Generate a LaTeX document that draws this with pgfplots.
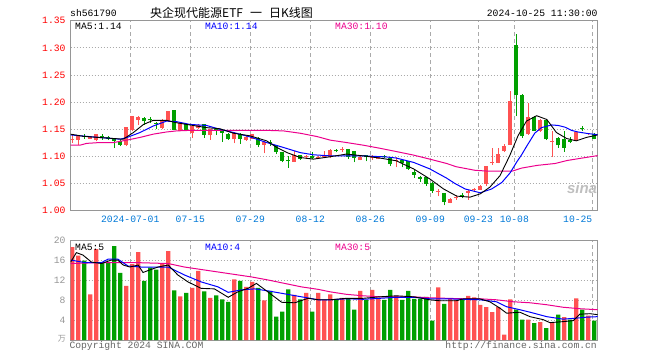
\documentclass[border=0pt]{standalone}
\usepackage{fontspec}
\setmainfont{Liberation Mono}
\setmonofont{Liberation Mono}
\setsansfont{Liberation Sans}
\newfontfamily\cjk{Noto Sans CJK SC}
\usepackage{pgfplots}
\usepackage{pgfplotstable}
\pgfplotsset{compat=1.18}
\definecolor{upred}{RGB}{255,82,82}
\definecolor{dngreen}{RGB}{0,160,0}
\definecolor{gridgray}{RGB}{170,170,170}
\definecolor{framegray}{RGB}{150,150,150}
\definecolor{tickblue}{RGB}{0,120,215}
\definecolor{volgray}{RGB}{150,150,150}
\newcommand{\mono}{\ttfamily\fontsize{9.7}{10}\selectfont}

\pgfplotstableread{
i O H L C
0 1.1310 1.1400 1.1250 1.1330
1 1.1306 1.1380 1.1214 1.1368
3 1.1325 1.1370 1.1320 1.1355
4 1.1294 1.1420 1.1275 1.1410
9 1.1214 1.1550 1.1190 1.1533
10 1.1480 1.1750 1.1460 1.1736
11 1.1680 1.1736 1.1582 1.1718
15 1.1520 1.1690 1.1500 1.1675
16 1.1644 1.1840 1.1630 1.1828
18 1.1472 1.1620 1.1465 1.1613
20 1.1429 1.1570 1.1337 1.1564
21 1.1518 1.1590 1.1500 1.1573
23 1.1390 1.1510 1.1305 1.1500
27 1.1317 1.1450 1.1238 1.1439
29 1.1299 1.1370 1.1290 1.1360
30 1.1329 1.1420 1.1320 1.1409
32 1.1213 1.1275 1.1055 1.1268
37 1.0902 1.1104 1.0895 1.1024
39 1.0985 1.1024 1.0951 1.1005
41 1.0975 1.1000 1.0960 1.0995
42 1.0982 1.1104 1.0975 1.1012
43 1.0982 1.1128 1.0970 1.1110
45 1.1112 1.1165 1.1073 1.1132
48 1.0933 1.1000 1.0925 1.0994
50 1.0970 1.1020 1.0933 1.1012
51 1.0951 1.0990 1.0945 1.0982
54 1.0923 1.0982 1.0799 1.0943
61 1.0350 1.0402 1.0262 1.0370
63 1.0146 1.0230 1.0135 1.0220
64 1.0227 1.0290 1.0200 1.0247
66 1.0329 1.0380 1.0206 1.0372
67 1.0380 1.0421 1.0360 1.0400
68 1.0390 1.0470 1.0385 1.0464
69 1.0495 1.0830 1.0452 1.0820
70 1.0872 1.1158 1.0851 1.0892
71 1.0882 1.1158 1.0870 1.1047
72 1.1097 1.1220 1.1080 1.1189
73 1.1219 1.2202 1.1210 1.2030
76 1.1404 1.1987 1.1395 1.1723
78 1.1465 1.1690 1.1455 1.1680
80 1.1271 1.1465 1.0986 1.1291
84 1.1293 1.1460 1.1285 1.1453
86 1.1406 1.1440 1.1395 1.1426
}\upcandles

\pgfplotstableread{
i O H L C
2 1.1380 1.1417 1.1320 1.1360
5 1.1377 1.1410 1.1306 1.1357
6 1.1355 1.1370 1.1300 1.1318
7 1.1337 1.1345 1.1153 1.1275
8 1.1288 1.1318 1.1183 1.1214
12 1.1705 1.1718 1.1582 1.1644
13 1.1685 1.1718 1.1613 1.1665
14 1.1623 1.1625 1.1503 1.1603
17 1.1846 1.1850 1.1480 1.1490
19 1.1595 1.1600 1.1460 1.1472
22 1.1591 1.1600 1.1348 1.1390
24 1.1498 1.1530 1.1390 1.1478
25 1.1488 1.1500 1.1268 1.1439
26 1.1421 1.1430 1.1310 1.1317
28 1.1421 1.1430 1.1226 1.1317
31 1.1348 1.1360 1.1165 1.1213
33 1.1266 1.1300 1.1195 1.1246
34 1.1207 1.1215 1.1043 1.1085
35 1.1085 1.1090 1.0890 1.0921
36 1.0931 1.1012 1.0787 1.0911
38 1.1024 1.1030 1.0940 1.0951
40 1.1012 1.1085 1.0951 1.0963
44 1.1114 1.1134 1.1073 1.1094
46 1.1134 1.1140 1.0951 1.0994
47 1.1091 1.1100 1.0890 1.0970
49 1.1024 1.1030 1.0909 1.0982
52 1.1004 1.1030 1.0970 1.0984
53 1.0963 1.0970 1.0817 1.0860
55 1.0933 1.0945 1.0799 1.0872
56 1.0909 1.0915 1.0750 1.0768
57 1.0720 1.0768 1.0598 1.0665
58 1.0628 1.0635 1.0537 1.0585
59 1.0616 1.0625 1.0451 1.0494
60 1.0512 1.0520 1.0323 1.0372
62 1.0323 1.0330 1.0098 1.0159
65 1.0296 1.0329 1.0225 1.0276
74 1.3061 1.3246 1.1741 1.2140
75 1.2140 1.2150 1.1342 1.1373
77 1.1723 1.1740 1.1470 1.1477
79 1.1680 1.1690 1.1300 1.1312
81 1.1342 1.1350 1.1158 1.1207
82 1.1312 1.1465 1.1084 1.1158
83 1.1300 1.1350 1.1240 1.1270
85 1.1517 1.1557 1.1465 1.1497
87 1.1404 1.1434 1.1312 1.1330
}\dncandles

\pgfplotstableread{
i v
0 18.7
1 17.0
3 9.2
4 18.3
9 10.9
10 15.3
11 17.7
15 15.3
16 17.9
18 8.8
20 10.5
21 13.9
23 8.5
27 12.2
29 10.7
30 11.7
32 8.0
37 9.1
39 9.5
41 9.5
42 8.1
43 9.2
45 8.5
48 9.9
50 10.1
51 8.4
54 8.9
61 10.6
63 8.4
64 8.1
66 8.9
67 8.6
68 7.1
69 6.6
70 5.6
71 6.6
72 1.1
73 8.2
76 4.1
78 3.6
80 3.6
82 4.6
84 8.4
86 4.9
}\volup

\pgfplotstableread{
i v
2 16.0
5 15.7
6 15.6
7 18.9
8 13.5
12 11.9
13 14.6
14 14.2
17 10.0
19 9.5
22 9.8
24 9.0
25 8.2
26 7.7
28 11.9
31 10.5
33 9.9
34 4.7
35 5.7
36 10.2
38 8.2
40 5.7
44 8.1
46 8.4
47 6.1
49 8.1
52 8.1
53 10.1
55 8.1
56 9.9
57 8.3
58 8.3
59 8.7
60 3.9
62 7.3
65 8.1
74 6.1
75 4.1
77 3.4
79 2.4
81 5.1
83 4.1
85 6.1
87 3.9
}\voldn

\pgfplotsset{
  kgrid/.style={
    scale only axis, width=527pt,
    xmin=-0.25, xmax=87.58,
    axis line style={framegray, line width=1pt},
    major tick length=0pt,
    xtick={9.68,19.68,29.68,39.68,49.68,59.68,67.68,73.68,86.68},
    ymajorgrids, xmajorgrids,
    y grid style={gridgray, dash pattern=on 1pt off 2pt, line width=0.8pt},
    x grid style={gridgray, dash pattern=on 4pt off 3pt, line width=1.2pt},
    tick label style={font=\mono, inner sep=0pt},
    clip=true,
  },
  wick/.style={draw=none, mark=none,
    error bars/.cd, y dir=plus, y explicit, error mark=none,
    error bar style={draw=#1, line width=1pt}},
  body/.style={draw=none, mark=none,
    error bars/.cd, y dir=plus, y explicit, error mark=none,
    error bar style={draw=#1, line width=4.3pt}},
}

\begin{document}
\begin{tikzpicture}
\path[use as bounding box] (0pt,0pt) rectangle (660pt,360pt);

\begin{axis}[kgrid,
  at={(70.7pt,149.3pt)}, anchor=south west, height=190pt,
  ymin=1.00, ymax=1.35,
  ytick={1.00,1.05,1.10,1.15,1.20,1.25,1.30,1.35},
  yticklabels={1.00,1.05,1.10,1.15,1.20,1.25,1.30,1.35},
  xticklabels={2024-07-01,07-15,07-29,08-12,08-26,09-09,09-23,10-08,\makebox[0pt][r]{10-25}},
  yticklabel style={text=red, xshift=-5pt},
  xticklabel style={text=tickblue, yshift=-5.5pt},
]
\addplot[wick=upred] table[x=i, y=L, y error plus expr=\thisrow{H}-\thisrow{L}] {\upcandles};
\addplot[wick=dngreen] table[x=i, y=L, y error plus expr=\thisrow{H}-\thisrow{L}] {\dncandles};
\addplot[body=upred] table[x=i, y=O, y error plus expr=\thisrow{C}-\thisrow{O}] {\upcandles};
\addplot[body=dngreen] table[x=i, y=C, y error plus expr=\thisrow{O}-\thisrow{C}] {\dncandles};

% MA30
\addplot[magenta, line width=1pt, mark=none] coordinates {
(-0.25,1.1207)(1.3,1.1207)(2.4,1.1240)(4.6,1.1256)(6.9,1.1256)(9.1,1.1300)(11.3,1.1350)(13.5,1.1410)(15.7,1.1450)(17.4,1.1470)(19.6,1.1480)(32.4,1.1480)(35.2,1.1470)(38,1.1427)(40.8,1.1366)(43,1.1300)(45.7,1.1256)(48.5,1.1207)(51.3,1.1150)(54,1.1090)(56.9,1.1024)(59.6,1.0950)(62.4,1.0870)(64,1.0810)(67.1,1.0745)(69.4,1.0728)(73.3,1.0728)(74.9,1.0785)(77.5,1.0835)(80.5,1.0870)(82.5,1.0925)(84.6,1.0963)(87.58,1.1015)};
% MA10
\addplot[blue, line width=1pt, mark=none] coordinates {
(-0.25,1.1396)(4.6,1.1348)(8,1.1317)(9.1,1.1348)(11.3,1.1440)(13.5,1.1560)(15.7,1.1650)(17.4,1.1640)(19.6,1.1590)(22.4,1.1570)(24.6,1.1500)(26.9,1.1440)(29.6,1.1360)(32.4,1.1256)(35.2,1.1165)(38,1.1070)(40.2,1.1030)(43,1.1010)(48.5,1.1010)(52.4,1.0990)(54,1.0970)(56.9,1.0890)(59.6,1.0770)(62.4,1.0600)(63.8,1.0500)(65.5,1.0400)(68,1.0330)(69.9,1.0400)(71.6,1.0520)(73,1.0700)(74.1,1.0900)(74.9,1.1030)(75.7,1.1180)(77.1,1.1430)(78.2,1.1530)(79.9,1.1580)(81,1.1570)(82.1,1.1540)(83.2,1.1480)(84.3,1.1450)(86,1.1420)(87.58,1.1400)};
% MA5
\addplot[black, line width=0.9pt, mark=none] coordinates {
(-0.25,1.1410)(1.9,1.1370)(4.6,1.1348)(6.9,1.1330)(8.5,1.1317)(10.2,1.1440)(11.9,1.1590)(13.5,1.1665)(15.7,1.1665)(17.4,1.1620)(19.6,1.1580)(22.4,1.1530)(24.6,1.1510)(26.9,1.1427)(29.6,1.1380)(32.4,1.1287)(34.1,1.1165)(35.8,1.1070)(38,1.0980)(40.2,1.0950)(43,1.0994)(45.7,1.1043)(48.5,1.1010)(51.3,1.0970)(54,1.0920)(56.9,1.0770)(59.6,1.0585)(61.9,1.0400)(64.1,1.0268)(66.3,1.0250)(68,1.0310)(69.6,1.0433)(71.3,1.0646)(72.9,1.1010)(74.3,1.1380)(75.7,1.1650)(77.4,1.1750)(79.1,1.1680)(80.7,1.1440)(82.4,1.1330)(84,1.1287)(85.7,1.1350)(87.58,1.1396)};
\end{axis}

\begin{axis}[kgrid,
  at={(70.7pt,20pt)}, anchor=south west, height=99.3pt,
  ymin=0, ymax=20,
  ytick={4,8,12,16,20}, yticklabels={4,8,12,16,20},
  xticklabels={},
  yticklabel style={text=volgray, xshift=-5pt},
]
\addplot[ybar, bar width=4.3pt, bar shift=0pt, fill=upred, draw=none] table[x=i, y=v] {\volup};
\addplot[ybar, bar width=4.3pt, bar shift=0pt, fill=dngreen, draw=none] table[x=i, y=v] {\voldn};
% MA30
\addplot[magenta, line width=1pt, mark=none] coordinates {
(-0.25,15.4)(4.9,15.6)(10.4,15.6)(16,15.4)(18.7,14.7)(21.5,14.2)(24.3,13.7)(27.1,13.2)(29.9,12.7)(32.6,12.1)(35.4,11.4)(38.2,10.7)(41,10.2)(43,9.7)(45.7,9.2)(48.5,8.9)(51.3,8.7)(54,8.7)(56.9,8.7)(59.6,8.5)(62.4,8.4)(65.2,8.3)(68,8.3)(70.7,8.1)(73.5,7.7)(76.3,7.5)(79.1,7.1)(81.8,6.6)(84.6,6.3)(87.58,6.1)};
% MA10
\addplot[blue, line width=1pt, mark=none] coordinates {
(-0.25,16.1)(2.1,15.6)(4.9,15.6)(6,16.3)(7.6,16.3)(9.3,14.9)(11.5,14.7)(13.2,14.7)(16,14.7)(18.7,13.1)(21.5,11.7)(24.3,10.7)(26,9.6)(28.2,10.1)(30.4,10.3)(32.6,9.9)(35.4,9.3)(38.2,8.7)(41,8.1)(43,8.1)(45.7,8.3)(48.5,8.2)(51.3,8.4)(54,8.6)(56.9,8.6)(59.6,8.3)(62.4,8.3)(65.2,8.2)(68,8.1)(70.7,7.7)(72.4,6.7)(74.6,6.1)(76.3,5.6)(79.1,4.7)(81.8,4.2)(84,4.4)(85.7,4.6)(87.58,4.7)};
% MA5
\addplot[black, line width=0.9pt, mark=none] coordinates {
(-0.25,15.7)(0.7,17.6)(1.8,17.1)(3.2,15.7)(4.9,15.4)(6.5,16.1)(7.6,16.1)(8.5,15.1)(9.6,14.7)(11,15.1)(11.8,13.6)(12.9,14.1)(14.3,14.7)(16,15.1)(17.6,13.1)(19.3,11.7)(21.5,10.4)(23.7,10.3)(26,8.6)(27.6,9.7)(29.3,10.4)(30.7,11.4)(32.6,9.7)(34.9,7.6)(37.1,7.5)(39.3,8.4)(41,8.1)(43,8.1)(45.7,8.4)(48.5,8.4)(51.3,8.7)(54,8.9)(56.9,8.7)(59.6,8.1)(61.3,7.9)(64,7.9)(65.2,8.3)(67.9,8.3)(69.6,7.7)(71.3,6.4)(72.4,5.4)(74.6,5.6)(76.3,4.7)(78.5,4.1)(79.6,3.5)(81.8,3.7)(83.5,3.9)(84.6,5.2)(86.3,5.3)(87.58,5.1)};
\end{axis}

% header texts
\node[anchor=west, inner sep=0pt, font=\mono] at (70pt,347pt) {sh561790};
\node[anchor=west, inner sep=0pt, font=\cjk\fontsize{12}{13}\selectfont] at (150pt,347pt) {央企现代能源ETF\hspace{7pt}一\hspace{7pt}日K线图};
\node[anchor=east, inner sep=0pt, font=\mono] at (597.7pt,347pt) {2024-10-25 11:30:00};
% MA legends (price)
\node[anchor=west, inner sep=0pt, font=\mono, text=black] at (75pt,334pt) {MA5:1.14};
\node[anchor=west, inner sep=0pt, font=\mono, text=blue] at (205pt,334pt) {MA10:1.14};
\node[anchor=west, inner sep=0pt, font=\mono, text=magenta] at (335pt,334pt) {MA30:1.10};
% MA legends (volume)
\node[anchor=west, inner sep=0pt, font=\mono, text=black] at (75pt,113pt) {MA5:5};
\node[anchor=west, inner sep=0pt, font=\mono, text=blue] at (205pt,113pt) {MA10:4};
\node[anchor=west, inner sep=0pt, font=\mono, text=magenta] at (335pt,113pt) {MA30:5};
% footer
\node[anchor=west, inner sep=0pt, font=\mono, text=black!60] at (69.3pt,14pt) {Copyright 2024 SINA.COM};
\node[anchor=east, inner sep=0pt, font=\mono, text=black!60] at (597pt,14pt) {http://finance.sina.com.cn};
\node[anchor=east, inner sep=0pt, font=\cjk\fontsize{8}{9}\selectfont, text=volgray] at (66pt,21pt) {万};
% watermark
\node[inner sep=0pt, font=\sffamily\bfseries\itshape\fontsize{15}{16}\selectfont, text=black!25] at (582pt,172pt) {sina};
\end{tikzpicture}
\end{document}
